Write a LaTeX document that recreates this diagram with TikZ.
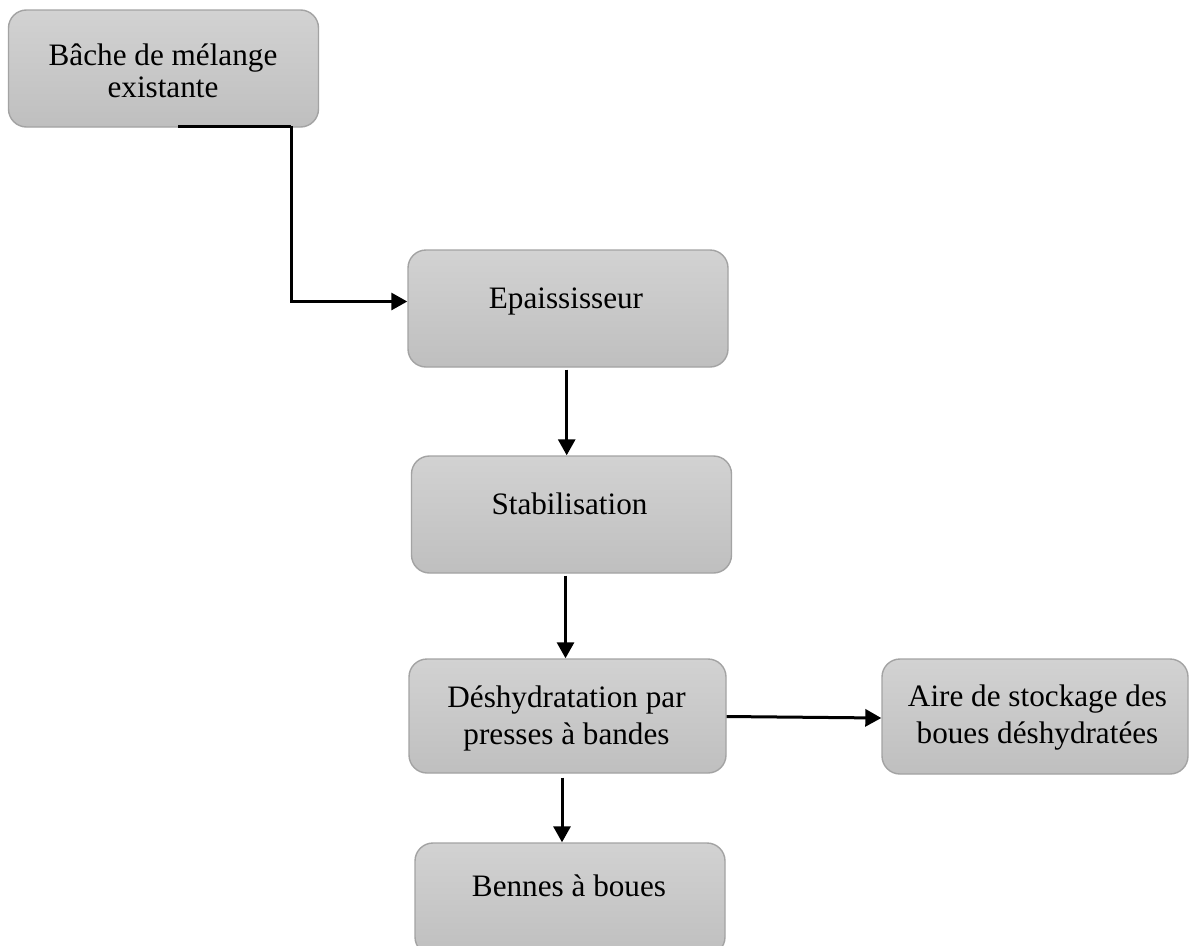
\documentclass[tikz,border=0pt]{standalone}
\usepackage{fontspec}
\setmainfont{Liberation Serif}
\usetikzlibrary{arrows.meta,calc}

\definecolor{boxedge}{HTML}{A3A3A3}
\definecolor{boxtop}{HTML}{D2D2D2}
\definecolor{boxbot}{HTML}{BFBFBF}

\tikzset{
  procbox/.style={draw=boxedge, line width=1.4pt, rounded corners=18pt,
    top color=boxtop, bottom color=boxbot, inner sep=0pt},
  lbl/.style={font=\fontsize{31.2}{37}\selectfont, align=center, inner sep=0pt},
  flow/.style={line width=3pt, -{Triangle[length=16pt,width=17pt]}},
  link/.style={line width=3pt}
}

\begin{document}
\begin{tikzpicture}[x=1pt,y=-1pt]
  \useasboundingbox (0,0) rectangle (1190,945);
  \clip (0,0) rectangle (1190,945);
  \fill[white] (0,0) rectangle (1190,945);

  % process boxes (centres and sizes in picture units)
  \node[procbox, minimum width=310pt, minimum height=117pt] (b1) at (163.5,68.5) {};
  \node[procbox, minimum width=320pt, minimum height=117pt] (b2) at (568,308.5) {};
  \node[procbox, minimum width=320pt, minimum height=117pt] (b3) at (571.5,514.5) {};
  \node[procbox, minimum width=317pt, minimum height=114pt] (b4) at (567.5,716) {};
  \node[procbox, minimum width=306pt, minimum height=115pt] (b5) at (1035,716.5) {};
  \node[procbox, minimum width=310pt, minimum height=112pt] (b6) at (570,899) {};

  % box captions (anchored on the baseline of their last line)
  \node[lbl, font=\fontsize{31.2}{32}\selectfont, anchor=base] (t1) at (163,97) {Bâche de mélange\\existante};
  \node[lbl, anchor=base] (t2) at (566,308) {Epaississeur};
  \node[lbl, anchor=base] (t3) at (569.5,514) {Stabilisation};
  \node[lbl, anchor=base] (t4) at (566.5,744) {Déshydratation par\\presses à bandes};
  \node[lbl, anchor=base] (t5) at (1037.5,743) {Aire de stockage des\\boues déshydratées};
  \node[lbl, anchor=base] (t6) at (569,896.5) {Bennes à boues};

  % connectors
  \coordinate (c1) at (178,126);
  \coordinate (c2) at (291,126);
  \coordinate (c3) at ([yshift=7pt]b2.west);
  \draw[link] (c1) -- (c2);
  \draw[flow] (c2) |- (c3);

  \draw[flow] ([xshift=-1.3pt,yshift=-2pt]b2.south) -- ([xshift=-1.3pt]b2.south |- b3.north);
  \draw[flow] ([xshift=-6pt,yshift=-2pt]b3.south) -- ([xshift=-6pt]b3.south |- b4.north);
  \coordinate (c4) at ([xshift=-5.5pt,yshift=-4pt]b4.south);
  \draw[flow] (c4) -- (c4 |- b6.north);
  \draw[flow] ([yshift=-0.5pt]b4.east) -- ([yshift=-1.5pt]b5.west);
\end{tikzpicture}
\end{document}
